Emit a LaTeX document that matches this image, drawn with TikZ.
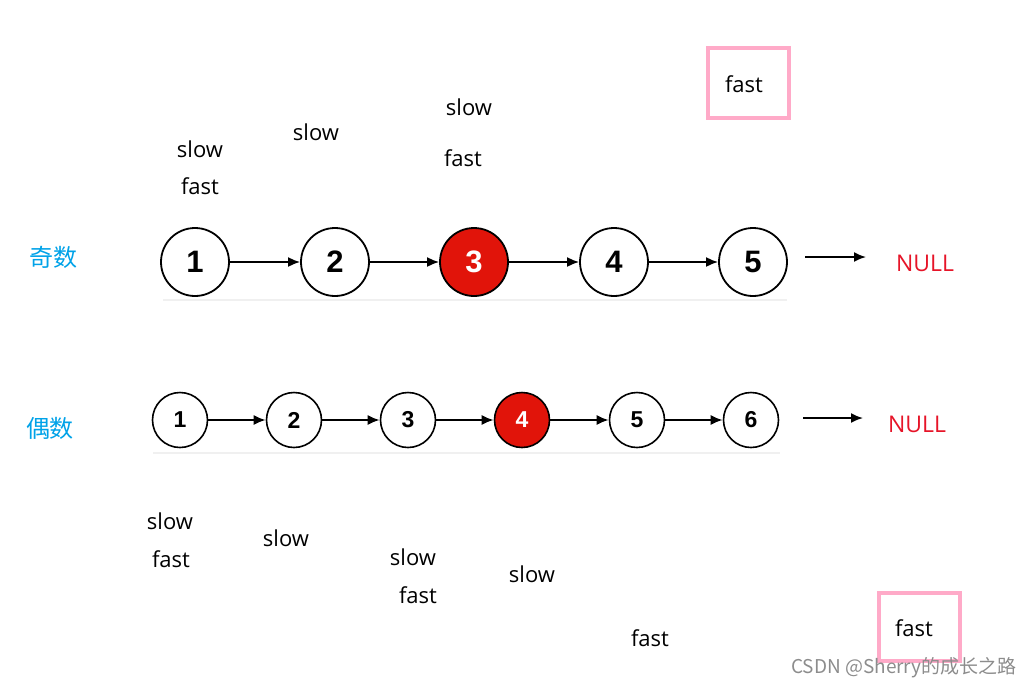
\documentclass[tikz,border=0pt]{standalone}
\usepackage{fontspec}
\setmainfont{Open Sans}
\newfontfamily\cjk{Noto Sans CJK SC}
\newfontfamily\numfont{Liberation Sans}
\usetikzlibrary{arrows.meta}
\usetikzlibrary{calc}
\definecolor{oddblue}{RGB}{0,162,232}
\definecolor{nullred}{RGB}{230,20,40}
\definecolor{boxpink}{RGB}{255,170,200}
\definecolor{nodered}{RGB}{225,20,10}
\tikzset{
    bignode/.style={circle, draw, line width=1.8pt, minimum size=68pt, inner sep=0pt, font=\numfont\bfseries\fontsize{31}{31}\selectfont},
    smallnode/.style={circle, draw, line width=1.6pt, minimum size=55pt, inner sep=0pt, font=\numfont\bfseries\fontsize{23}{23}\selectfont},
    hotnode/.style={fill=nodered, text=white},
    link/.style={-{Latex[length=12pt,width=10pt]}, line width=1.8pt},
    ptr/.style={font=\fontsize{22}{22}\selectfont},
    nulltext/.style={text=nullred, font=\fontsize{23}{23}\selectfont},
    parity/.style={text=oddblue, font=\cjk\fontsize{24}{24}\selectfont},
    markbox/.style={draw=boxpink, line width=4pt}
}
\begin{document}
\begin{tikzpicture}[x=1pt, y=-1pt]
        \useasboundingbox (0,0) rectangle (1034,689);
        \newcommand{\rowaycent}{262}
        \newcommand{\rowbycent}{420}
        % odd list
        \draw[black!6, line width=2pt] (163,300) -- (787,300);
        \node[bignode] (a1) at (195,\rowaycent) {1};
        \node[bignode] (a2) at (335,\rowaycent) {2};
        \node[bignode, hotnode] (a3) at (474,\rowaycent) {3};
        \node[bignode] (a4) at (614,\rowaycent) {4};
        \node[bignode] (a5) at (753,\rowaycent) {5};
        \draw[link] (a1) -- (a2);
        \draw[link] (a2) -- (a3);
        \draw[link] (a3) -- (a4);
        \draw[link] (a4) -- (a5);
        \coordinate (anullstart) at (805,257);
        \coordinate (anullend) at (866,257);
        \draw[link] (anullstart) -- (anullend);
        \node[nulltext] (anull) at (925,263) {NULL};
        \node[parity] (odd) at (54,257) {奇数};
        % even list
        \draw[black!6, line width=2pt] (153,453) -- (780,453);
        \node[smallnode] (b1) at (180,\rowbycent) {1};
        \node[smallnode] (b2) at (294,\rowbycent) {2};
        \node[smallnode] (b3) at (408,\rowbycent) {3};
        \node[smallnode, hotnode] (b4) at (522,\rowbycent) {4};
        \node[smallnode] (b5) at (637,\rowbycent) {5};
        \node[smallnode] (b6) at (751,\rowbycent) {6};
        \draw[link] (b1) -- (b2);
        \draw[link] (b2) -- (b3);
        \draw[link] (b3) -- (b4);
        \draw[link] (b4) -- (b5);
        \draw[link] (b5) -- (b6);
        \coordinate (bnullstart) at (803,418);
        \coordinate (bnullend) at (863,418);
        \draw[link] (bnullstart) -- (bnullend);
        \node[nulltext] (bnull) at (917,424) {NULL};
        \node[parity] (even) at (50,428) {偶数};
        % pointers, odd
        \node[ptr] (aslowa) at (200,149) {slow};
        \node[ptr] (afasta) at (200,186) {fast};
        \node[ptr] (aslowb) at (316,132) {slow};
        \node[ptr] (aslowc) at (469,107) {slow};
        \node[ptr] (afastb) at (463,158) {fast};
        \node[ptr] (afastc) at (744,84) {fast};
        \draw[markbox] (708,48) rectangle (789,118);
        % pointers, even
        \node[ptr] (bslowa) at (170,521) {slow};
        \node[ptr] (bfasta) at (171,559) {fast};
        \node[ptr] (bslowb) at (286,538) {slow};
        \node[ptr] (bslowc) at (413,557) {slow};
        \node[ptr] (bfastb) at (418,595) {fast};
        \node[ptr] (bslowd) at (532,574) {slow};
        \node[ptr] (bfastc) at (650,638) {fast};
        \node[ptr] (bfastd) at (914,628) {fast};
        \draw[markbox] (879,593) rectangle (960,661);
        \node[text=black!45, font=\cjk\fontsize{19}{19}\selectfont] (mark) at (904,668) {CSDN @Sherry的成长之路};
\end{tikzpicture}
\end{document}
